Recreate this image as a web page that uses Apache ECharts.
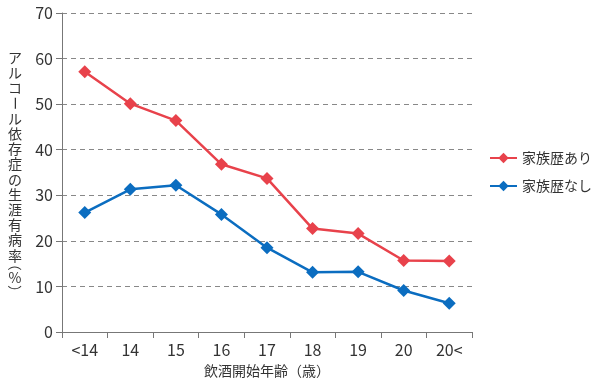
<!DOCTYPE html>
<html>
<head>
<meta charset="utf-8">
<script src="https://cdn.jsdelivr.net/npm/echarts@6/dist/echarts.min.js"></script>
<style>html,body{margin:0;padding:0;background:#fff}#c{width:600px;height:384px}</style>
</head>
<body>
<div id="c"></div>
<script>
const categories = ['<14', '14', '15', '16', '17', '18', '19', '20', '20<'];
const withHistory = [57.1, 50.1, 46.4, 36.8, 33.7, 22.7, 21.6, 15.7, 15.6];
const withoutHistory = [26.2, 31.3, 32.2, 25.8, 18.5, 13.1, 13.2, 9.1, 6.3];
const seriesNames = ['家族歴あり', '家族歴なし'];
const yTicks = { min: 0, max: 70, interval: 10 };
const yAxisTitle = 'アルコール依存症の生涯有病率（%）';
const xAxisTitle = '飲酒開始年齢（歳）';

const FONT = '"Noto Sans CJK JP", "Noto Sans", sans-serif';
const chart = echarts.init(document.getElementById('c'), null, { renderer: 'canvas' });

// vertical y-axis title: one glyph per row, dash and brackets turned as in vertical writing
const chars = Array.from(yAxisTitle);
const fullStep = 15.2, halfStep = 7.5;
let cursor = 50;
const yTitleElems = chars.map((ch) => {
  let y, rot = 0;
  if (ch === '（') {
    y = cursor + 1; rot = -Math.PI / 2; cursor += halfStep;
  } else if (ch === '）') {
    y = cursor + halfStep - 1; rot = -Math.PI / 2; cursor += halfStep;
  } else {
    y = cursor + fullStep / 2;
    if (ch === 'ー') rot = -Math.PI / 2;
    cursor += fullStep;
  }
  return {
    type: 'text',
    x: 15,
    y: y,
    rotation: rot,
    style: {
      text: ch,
      fontSize: 14,
      fontFamily: FONT,
      fill: '#333',
      align: 'center',
      verticalAlign: 'middle'
    }
  };
});

chart.setOption({
  animation: false,
  textStyle: { fontFamily: FONT },
  grid: { left: 62, right: 128, top: 13, bottom: 52, containLabel: false },
  legend: {
    orient: 'vertical',
    left: 484,
    top: 146,
    itemWidth: 27,
    itemHeight: 13,
    itemGap: 14,
    textStyle: { fontSize: 14, color: '#333', fontFamily: FONT },
    data: seriesNames
  },
  xAxis: {
    type: 'category',
    data: categories,
    boundaryGap: true,
    name: xAxisTitle,
    nameLocation: 'middle',
    nameGap: 32,
    nameTextStyle: { fontSize: 14, color: '#333', fontFamily: FONT },
    axisLine: { lineStyle: { color: '#777', width: 1 } },
    axisTick: { show: true, length: 6, lineStyle: { color: '#777' } },
    axisLabel: { fontSize: 16, color: '#333', margin: 10, fontFamily: FONT },
    splitLine: { show: false }
  },
  yAxis: {
    type: 'value',
    min: yTicks.min,
    max: yTicks.max,
    interval: yTicks.interval,
    axisLine: { show: true, lineStyle: { color: '#777', width: 1 } },
    axisTick: { show: true, length: 6, lineStyle: { color: '#777' } },
    axisLabel: { fontSize: 16, color: '#333', margin: 9, fontFamily: FONT },
    splitLine: { show: true, lineStyle: { color: '#888', type: [5, 4], width: 1 } }
  },
  graphic: yTitleElems,
  series: [
    {
      name: seriesNames[0],
      type: 'line',
      data: withHistory,
      symbol: 'diamond',
      symbolSize: 13,
      color: '#e8424b',
      lineStyle: { width: 2.5, color: '#e8424b' },
      itemStyle: { color: '#e8424b' }
    },
    {
      name: seriesNames[1],
      type: 'line',
      data: withoutHistory,
      symbol: 'diamond',
      symbolSize: 13,
      color: '#0b6dc0',
      lineStyle: { width: 2.5, color: '#0b6dc0' },
      itemStyle: { color: '#0b6dc0' }
    }
  ]
});
</script>
</body>
</html>
